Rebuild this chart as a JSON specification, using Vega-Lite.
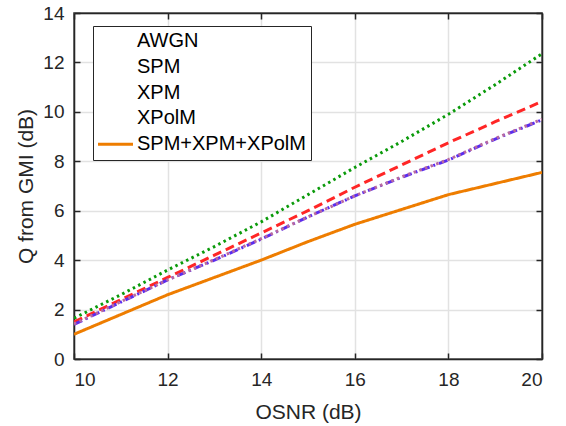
{
  "$schema": "https://vega.github.io/schema/vega-lite/v6.json",
  "autosize": "none",
  "width": 468,
  "height": 346,
  "padding": {"left": 74, "top": 13, "right": 24, "bottom": 67},
  "background": "white",
  "config": {
    "font": "Liberation Sans",
    "view": {"stroke": "#262626", "strokeWidth": 1.5},
    "axis": {
      "labelFont": "Liberation Sans",
      "labelFontSize": 19,
      "labelColor": "#262626",
      "titleFont": "Liberation Sans",
      "titleFontSize": 21,
      "titleFontWeight": "normal",
      "titleColor": "#262626",
      "domainColor": "#262626",
      "domainWidth": 1.5,
      "tickColor": "#262626",
      "tickWidth": 1.5,
      "tickSize": -6,
      "gridColor": "#e2e2e2",
      "gridWidth": 1.5
    }
  },
  "data": {
    "values": [
      {"osnr": 10, "q": 1.65, "series": "AWGN"},
      {"osnr": 11, "q": 2.6, "series": "AWGN"},
      {"osnr": 12, "q": 3.6, "series": "AWGN"},
      {"osnr": 13, "q": 4.55, "series": "AWGN"},
      {"osnr": 14, "q": 5.55, "series": "AWGN"},
      {"osnr": 15, "q": 6.65, "series": "AWGN"},
      {"osnr": 16, "q": 7.75, "series": "AWGN"},
      {"osnr": 17, "q": 8.8, "series": "AWGN"},
      {"osnr": 18, "q": 9.9, "series": "AWGN"},
      {"osnr": 19, "q": 11.1, "series": "AWGN"},
      {"osnr": 20, "q": 12.35, "series": "AWGN"},
      {"osnr": 10, "q": 1.5, "series": "SPM"},
      {"osnr": 11, "q": 2.4, "series": "SPM"},
      {"osnr": 12, "q": 3.3, "series": "SPM"},
      {"osnr": 13, "q": 4.2, "series": "SPM"},
      {"osnr": 14, "q": 5.1, "series": "SPM"},
      {"osnr": 15, "q": 6.0, "series": "SPM"},
      {"osnr": 16, "q": 6.95, "series": "SPM"},
      {"osnr": 17, "q": 7.85, "series": "SPM"},
      {"osnr": 18, "q": 8.75, "series": "SPM"},
      {"osnr": 19, "q": 9.6, "series": "SPM"},
      {"osnr": 20, "q": 10.42, "series": "SPM"},
      {"osnr": 10, "q": 1.4, "series": "XPM"},
      {"osnr": 11, "q": 2.3, "series": "XPM"},
      {"osnr": 12, "q": 3.2, "series": "XPM"},
      {"osnr": 13, "q": 4.0, "series": "XPM"},
      {"osnr": 14, "q": 4.85, "series": "XPM"},
      {"osnr": 15, "q": 5.75, "series": "XPM"},
      {"osnr": 16, "q": 6.6, "series": "XPM"},
      {"osnr": 17, "q": 7.35, "series": "XPM"},
      {"osnr": 18, "q": 8.05, "series": "XPM"},
      {"osnr": 19, "q": 8.9, "series": "XPM"},
      {"osnr": 20, "q": 9.68, "series": "XPM"},
      {"osnr": 10, "q": 1.42, "series": "XPolM"},
      {"osnr": 11, "q": 2.32, "series": "XPolM"},
      {"osnr": 12, "q": 3.2, "series": "XPolM"},
      {"osnr": 13, "q": 4.02, "series": "XPolM"},
      {"osnr": 14, "q": 4.87, "series": "XPolM"},
      {"osnr": 15, "q": 5.75, "series": "XPolM"},
      {"osnr": 16, "q": 6.6, "series": "XPolM"},
      {"osnr": 17, "q": 7.37, "series": "XPolM"},
      {"osnr": 18, "q": 8.07, "series": "XPolM"},
      {"osnr": 19, "q": 8.92, "series": "XPolM"},
      {"osnr": 20, "q": 9.7, "series": "XPolM"},
      {"osnr": 10, "q": 1.0, "series": "SPM+XPM+XPolM"},
      {"osnr": 11, "q": 1.8, "series": "SPM+XPM+XPolM"},
      {"osnr": 12, "q": 2.6, "series": "SPM+XPM+XPolM"},
      {"osnr": 13, "q": 3.3, "series": "SPM+XPM+XPolM"},
      {"osnr": 14, "q": 4.0, "series": "SPM+XPM+XPolM"},
      {"osnr": 15, "q": 4.75, "series": "SPM+XPM+XPolM"},
      {"osnr": 16, "q": 5.45, "series": "SPM+XPM+XPolM"},
      {"osnr": 17, "q": 6.05, "series": "SPM+XPM+XPolM"},
      {"osnr": 18, "q": 6.65, "series": "SPM+XPM+XPolM"},
      {"osnr": 19, "q": 7.1, "series": "SPM+XPM+XPolM"},
      {"osnr": 20, "q": 7.55, "series": "SPM+XPM+XPolM"}
    ]
  },
  "resolve": {
    "axis": {"x": "independent", "y": "independent"},
    "scale": {"color": "independent"}
  },
  "layer": [
    {
      "mark": {"type": "line", "strokeWidth": 3, "clip": true},
      "encoding": {
        "x": {
          "field": "osnr", "type": "quantitative",
          "scale": {"domain": [10, 20], "nice": false},
          "axis": {"title": "OSNR (dB)", "values": [10, 12, 14, 16, 18, 20], "labelPadding": 17, "titlePadding": 12}
        },
        "y": {
          "field": "q", "type": "quantitative",
          "scale": {"domain": [0, 14], "nice": false},
          "axis": {"title": "Q from GMI (dB)", "values": [0, 2, 4, 6, 8, 10, 12, 14], "labelPadding": 16, "titlePadding": 6}
        },
        "color": {
          "field": "series", "type": "nominal",
          "scale": {
            "domain": ["AWGN", "SPM", "XPM", "XPolM", "SPM+XPM+XPolM"],
            "range": ["#0a9a0a", "#ff2626", "#5a2cf0", "#b86aa0", "#ee7d00"]
          },
          "legend": null
        },
        "strokeDash": {
          "field": "series", "type": "nominal",
          "scale": {
            "domain": ["AWGN", "SPM", "XPM", "XPolM", "SPM+XPM+XPolM"],
            "range": [[2.5, 3.5], [9, 5], [9, 4, 2, 4], [2.5, 3.5], [1, 0]]
          },
          "legend": null
        }
      }
    },
    {
      "mark": {"type": "line", "opacity": 0},
      "encoding": {
        "x": {
          "field": "osnr", "type": "quantitative",
          "axis": {"orient": "top", "labels": false, "title": null, "grid": false, "values": [10, 12, 14, 16, 18, 20]}
        },
        "y": {
          "field": "q", "type": "quantitative",
          "axis": {"orient": "right", "labels": false, "title": null, "grid": false, "values": [0, 2, 4, 6, 8, 10, 12, 14]}
        },
        "color": {
          "field": "series", "type": "nominal",
          "scale": {
            "domain": ["AWGN", "SPM", "XPM", "XPolM", "SPM+XPM+XPolM"],
            "range": ["transparent", "transparent", "transparent", "transparent", "#ee7d00"]
          },
          "legend": {
            "orient": "none",
            "legendX": 19,
            "legendY": 13,
            "title": null,
            "symbolType": "M-2,0H5",
            "symbolSize": 100,
            "symbolStrokeWidth": 3,
            "symbolOpacity": 1,
            "symbolFillColor": "transparent",
            "labelFont": "Liberation Sans",
            "labelFontSize": 20,
            "labelColor": "#000000",
            "labelOffset": 19,
            "labelLimit": 400,
            "padding": 5,
            "rowPadding": 5.8,
            "strokeColor": "#262626",
            "fillColor": "white",
            "cornerRadius": 0
          }
        }
      }
    }
  ]
}
